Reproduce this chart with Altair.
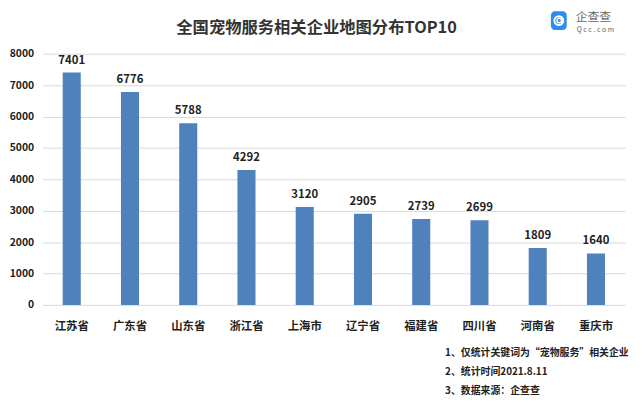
import altair as alt
import pandas as pd

provinces = ["江苏省", "广东省", "山东省", "浙江省", "上海市", "辽宁省", "福建省", "四川省", "河南省", "重庆市"]
counts = [7401, 6776, 5788, 4292, 3120, 2905, 2739, 2699, 1809, 1640]
title_text = "全国宠物服务相关企业地图分布TOP10"
notes = ["1、仅统计关键词为“宠物服务”相关企业", "2、统计时间2021.8.11", "3、数据来源：企查查"]
y_ticks = [0, 1000, 2000, 3000, 4000, 5000, 6000, 7000, 8000]

FONT = "Noto Sans CJK SC"
df = pd.DataFrame({"province": provinces, "count": counts})

x_enc = alt.X("province:N", sort=provinces, title=None,
              scale=alt.Scale(paddingInner=0.69, paddingOuter=0.345),
              axis=alt.Axis(labelAngle=0, labelFont=FONT, labelFontSize=11.5, labelFontWeight="bold",
                            labelColor="#222", labelPadding=16, ticks=False, domain=False))
y_enc = alt.Y("count:Q", title=None, scale=alt.Scale(domain=[0, 8000], nice=False),
              axis=alt.Axis(values=y_ticks, format="d", labelOverlap=False,
                            labelFont=FONT, labelFontSize=10.5, labelFontWeight="bold",
                            labelColor="#222", labelPadding=9, ticks=False, domain=False,
                            gridColor="#d9d9d9", gridWidth=1))

bars = alt.Chart(df).mark_bar(color="#4f81bd").encode(x=x_enc, y=y_enc)
labels = alt.Chart(df).mark_text(dy=-12, font=FONT, fontSize=11.5, fontWeight="bold", color="#222").encode(
    x=x_enc, y=y_enc, text="count:Q")
main = alt.layer(bars, labels)

title = alt.Chart(pd.DataFrame({"t": [title_text]})).mark_text(
    font=FONT, fontSize=16.5, fontWeight="bold", color="#333", align="center", baseline="middle"
).encode(x=alt.value(277), y=alt.value(-26), text="t:N")

notes_df = pd.DataFrame({"t": notes, "i": [0, 1, 2]})
notes_layer = alt.Chart(notes_df).mark_text(
    font=FONT, fontSize=10, fontWeight="bold", color="#222", align="left", baseline="middle"
).encode(x=alt.value(407),
         y=alt.Y("i:Q", axis=None, scale=alt.Scale(domain=[0, 2], range=[303, 341])),
         text="t:N")

icon = alt.Chart(pd.DataFrame({"a": [0]})).mark_rect(color="#2d8cf0", cornerRadius=4).encode(
    x=alt.value(514), x2=alt.value(530), y=alt.value(-43), y2=alt.value(-24))
icon_ring = alt.Chart(pd.DataFrame({"a": [0]})).mark_point(
    shape="circle", size=80, stroke="white", strokeWidth=2, filled=False, opacity=1).encode(
    x=alt.value(522), y=alt.value(-33.5))
icon_ring2 = alt.Chart(pd.DataFrame({"a": [0]})).mark_point(
    shape="circle", size=20, stroke="white", strokeWidth=1.5, filled=False, opacity=1).encode(
    x=alt.value(522.5), y=alt.value(-33.5))
logo1 = alt.Chart(pd.DataFrame({"t": ["企查查"]})).mark_text(
    font=FONT, fontSize=12, color="#666", align="left", baseline="middle").encode(
    x=alt.value(539), y=alt.value(-37), text="t:N")
logo2 = alt.Chart(pd.DataFrame({"t": ["Q c c . c o m"]})).mark_text(
    font=FONT, fontSize=7, color="#666", align="left", baseline="middle").encode(
    x=alt.value(540), y=alt.value(-24), text="t:N")

chart = alt.layer(main, title, notes_layer, icon, icon_ring, icon_ring2, logo1, logo2).resolve_scale(
    y="independent").properties(
    width=589, height=254,
    autosize=alt.AutoSizeParams(type="none"),
    padding={"left": 35, "top": 44, "right": 8, "bottom": 95},
    background="white",
).configure_view(stroke=None)

chart.save("out.html", embed_options={"renderer": "svg", "actions": False})
